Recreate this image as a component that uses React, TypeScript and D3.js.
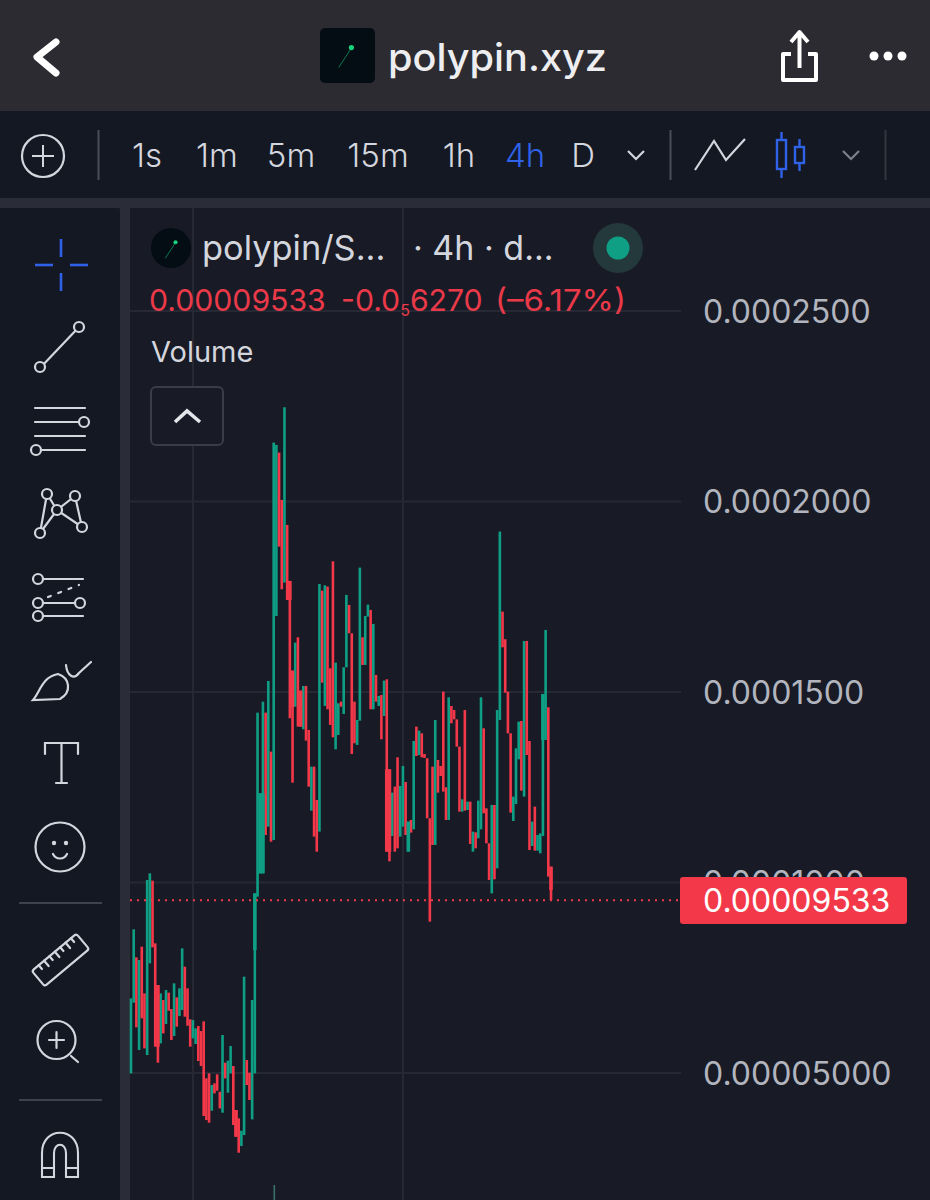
import React from "react";
import * as d3 from "d3";

// All prices are in units of 1e-8
const priceTicks = [25000, 20000, 15000, 10000, 5000];
const tickLabels = ["0.0002500", "0.0002000", "0.0001500", "0.0001000", "0.00005000"];
const lastPrice = 9533;
const lastLabel = "0.00009533";
const intervals = ["1s", "1m", "5m", "15m", "1h", "4h", "D"];
const activeInterval = "4h";

const highs = [6959,8770,8035,7965,8315,7090,10065,10240,10048,8403,7309,7090,6915,7178,7108,6679,7353,6985,7221,8271,7790,7221,6408,6390,6171,6233,6101,6355,4859,4990,4684,4728,4964,4509,5996,5270,5323,5708,5183,4028,3809,3485,7528,5340,5008,6915,9715,14458,12341,14747,14458,15290,13435,21546,21485,21284,20041,22473,19385,17915,15561,16296,16436,15036,15159,15159,14004,13041,13041,12166,17836,17661,17801,17766,15622,18431,15771,14703,14747,15648,17547,17285,16541,14747,14266,18265,16436,16996,17294,17154,16786,15447,14896,14922,15299,15333,12971,12358,12516,13286,12534,13058,12638,11597,11641,13715,14091,13986,13916,13373,13260,11685,13041,14266,13216,13058,15010,12498,14861,14633,14528,14283,13566,12184,14528,12122,12122,11335,11317,12149,14861,14047,11947,11029,12035,12035,14528,19210,17110,16384,15010,13916,12254,13522,14222,14240,16340,16340,13715,11597,11991,11247,11291,14948,16628,14598,10416];
const lows = [4990,6845,6198,5603,6434,5646,5471,7878,8298,5690,5270,5778,6040,6285,6635,5865,5970,6215,6495,6653,6478,6241,5690,5909,5760,5314,5183,3870,3765,3695,4010,4465,4535,4071,3958,4859,4483,4990,3634,3328,2908,3083,3371,4684,4290,3783,4990,9629,10240,10241,11247,11466,11072,11116,16996,18816,17696,17871,17416,14310,12621,14616,14091,14091,14021,13723,12516,11886,11204,10810,11335,15246,14634,14546,14135,13811,13496,13872,14616,14423,15648,16541,13373,13653,13610,14248,15710,15710,16979,14546,14546,14747,14634,13759,14371,10810,10556,11221,10810,10897,11204,11466,11247,10810,11308,11396,13321,13347,13286,13269,11685,8972,10985,10985,12358,12796,12385,11641,11641,14179,14283,13566,11860,11860,11886,11903,11011,10810,10897,11160,11396,11816,11029,10066,9716,10084,10372,14266,16173,14983,13916,11834,11615,12061,13233,12411,12254,13347,10853,10958,10836,10836,10766,11221,13741,10154,9541];
const sideList = (
  "GGRGRRGGRR" + "RGRGRRGRGG" + "RRRGGRRRRR" + "GRRRGRGGRR" + "RGGRRGGGGG" +
  "RGRGGRRGRR" + "RGRRGRRGRR" + "GRGRRRGGRG" + "GRRRGGRGGR" + "GRGRGRRGRR" +
  "GGRGRGRGRR" + "RRRGRRRRGR" + "RRRGRGRGRG" + "GRRRGRGGRR" + "RRGGGRGRRG" +
  "RGGGGRR"
).split("");
// Wider body spans where a candle's body is visibly heavier than its wick: index, top, bottom
const heavyIndex = [10,39,46,48,49,59,95,96,103,153,156,63,60];
const heavyTop = [7309,4028,9715,12341,12341,17915,12971,12971,11597,14948,10416,15036,15561];
const heavyBottom = [5690,3328,8228,10240,10240,17416,10810,10810,10810,13741,9800,14091,14600];

const W = 930, H = 1200;
const GREEN = "#0f9f84", RED = "#f23849", ICON = "#d4d6de", BLUE = "#2f62e6";
const FONT = "Inter, Roboto, sans-serif";

const y = d3.scaleLinear().domain([5000, 25000]).range([1073, 311]);
const x = d3.scaleLinear().domain([0, highs.length - 1]).range([131, 551]);

function Pin({ cx, cy, r }: { cx: number; cy: number; r: number }) {
  return (
    <g>
      <line x1={cx - r * 0.42} y1={cy + r * 0.58} x2={cx + r * 0.22} y2={cy - r * 0.4} stroke="#0b7a52" strokeWidth={1} />
      <circle cx={cx + r * 0.22} cy={cy - r * 0.42} r={r * 0.13} fill="#19d27c" />
    </g>
  );
}

function Toolbar() {
  const s = { fill: "none", stroke: ICON, strokeWidth: 2.2, strokeLinecap: "round" as const };
  const knob = (cx: number, cy: number, r = 5) => <circle cx={cx} cy={cy} r={r} fill="#141823" stroke={ICON} strokeWidth={2.2} />;
  return (
    <g>
      <g stroke={BLUE} strokeWidth={2.6}>
        <line x1={61} y1={239} x2={61} y2={257} /><line x1={61} y1={273} x2={61} y2={291} />
        <line x1={35} y1={265} x2={53} y2={265} /><line x1={70} y1={265} x2={88} y2={265} />
      </g>
      <line x1={41} y1={367} x2={79} y2={327} {...s} />{knob(40, 367)}{knob(79, 327)}
      <g {...s}>
        <line x1={35} y1={408} x2={85} y2={408} /><line x1={35} y1={422} x2={82} y2={422} />
        <line x1={35} y1={436} x2={85} y2={436} /><line x1={36} y1={450} x2={85} y2={450} />
      </g>
      {knob(84, 422)}{knob(36, 450)}
      <path d="M40 533 L47 494 L57 510 L75 496 L82 527 L57 510 L40 533" {...s} />
      {knob(47, 494)}{knob(75, 496)}{knob(57, 510)}{knob(40, 533)}{knob(82, 527)}
      <g {...s}>
        <line x1={40} y1={579} x2={83} y2={579} /><line x1={40} y1={603} x2={80} y2={603} />
        <line x1={40} y1={616} x2={83} y2={616} />
        <line x1={48} y1={597} x2={79} y2={585} strokeDasharray="3 8" />
      </g>
      {knob(38, 579)}{knob(38, 603)}{knob(80, 603)}{knob(38, 616)}
      <path d="M33 700 C40 692 42 677 58 674 C70 678 72 692 60 699 L33 700 Z M66 665 C67 676 74 680 79 673 L91 662" {...s} />
      <g {...s}>
        <path d="M45 754 L45 743 L78 743 L78 754" /><line x1={61.5} y1={743} x2={61.5} y2={783} /><line x1={56} y1={783} x2={67} y2={783} />
      </g>
      <circle cx={60} cy={847} r={24.5} {...s} />
      <circle cx={54} cy={843} r={2.2} fill={ICON} /><circle cx={66} cy={843} r={2.2} fill={ICON} />
      <path d="M53 854 C56 860 64 860 67 854" {...s} />
      <line x1={19} y1={903} x2={102} y2={903} stroke="#3f424c" strokeWidth={2} />
      <line x1={19} y1={1100} x2={102} y2={1100} stroke="#3f424c" strokeWidth={2} />
      <g transform="translate(60.5,960) rotate(-40)">
        <rect x={-29} y={-10} width={58} height={20} rx={2.5} {...s} />
        {[-20, -13, -6, 1, 8, 15, 22].map((d, i) => <line key={d} x1={d} y1={-10} x2={d} y2={i % 2 ? -3 : -5} {...s} />)}
      </g>
      <circle cx={56.5} cy={1040} r={19} {...s} />
      <path d="M49 1040 H64 M56.5 1032 V1048 M71 1056 L78 1062" {...s} />
      <path d="M42 1177 V1153 C42 1126 78 1126 78 1153 V1177 H66 V1153 C66 1142 54 1142 54 1153 V1177 Z M42 1168 H54 M66 1168 H78" {...s} strokeWidth={2.1} />
    </g>
  );
}

function Header() {
  const xs = [147, 217, 291, 378, 459, 525, 583];
  return (
    <g fontFamily={FONT}>
      <rect width={W} height={111} fill="#2b2b31" />
      <path d="M56 42 L37 57 L56 73" fill="none" stroke="#fff" strokeWidth={7} strokeLinecap="round" strokeLinejoin="round" />
      <rect x={320} y={28} width={55} height={55} rx={5} fill="#040c14" />
      <Pin cx={347} cy={56} r={20} />
      <text x={388} y={71} fontSize={38} fontWeight={500} fill="#eeeef0" textLength={219} lengthAdjust="spacingAndGlyphs" fontFamily="Inter, sans-serif">polypin.xyz</text>
      <path d="M791 54 H783 V80 H816 V54 H808 M799.5 68 V35 M791 42 L799.5 32 L808 42" fill="none" stroke="#fff" strokeWidth={4} strokeLinejoin="round" />
      <circle cx={874} cy={56} r={4.5} fill="#fff" /><circle cx={888} cy={56} r={4.5} fill="#fff" /><circle cx={902} cy={56} r={4.5} fill="#fff" />

      <rect y={111} width={W} height={87} fill="#141823" />
      <circle cx={43} cy={156} r={21} fill="none" stroke={ICON} strokeWidth={2.2} />
      <path d="M43 145 V167 M32 156 H54" stroke={ICON} strokeWidth={2} />
      <line x1={98.5} y1={130} x2={98.5} y2={180} stroke="#4a4d56" strokeWidth={2} />
      {intervals.map((t, i) => (
        <text key={t} x={xs[i]} y={167} textAnchor="middle" fontSize={33} fontWeight={300} fill={t === activeInterval ? BLUE : "#d4d6de"}>{t}</text>
      ))}
      <path d="M628 151 L636 159 L644 151" fill="none" stroke={ICON} strokeWidth={2.2} />
      <line x1={670.5} y1={130} x2={670.5} y2={180} stroke="#4a4d56" strokeWidth={2} />
      <path d="M695 170 L714 141 L726 160 L745 139" fill="none" stroke={ICON} strokeWidth={2.2} />
      <g fill="none" stroke={BLUE} strokeWidth={2.4}>
        <rect x={777} y={140} width={9} height={29} /><line x1={781.5} y1={132} x2={781.5} y2={140} /><line x1={781.5} y1={169} x2={781.5} y2={178} />
        <rect x={795} y={147} width={9} height={16} /><line x1={799.5} y1={139} x2={799.5} y2={147} /><line x1={799.5} y1={163} x2={799.5} y2={171} />
      </g>
      <path d="M843 151 L851 159 L859 151" fill="none" stroke="#7d808a" strokeWidth={2.2} />
      <line x1={885.5} y1={130} x2={885.5} y2={180} stroke="#33363f" strokeWidth={2} />
      <rect y={198} width={W} height={10} fill="#2a2d37" />
    </g>
  );
}

export default function App() {
  return (
    <svg width={W} height={H} viewBox={`0 0 ${W} ${H}`} style={{ position: "fixed", left: 0, top: 0, background: "#181b26" }}>
      <rect width={W} height={H} fill="#181b26" />
      <rect x={120} y={198} width={10} height={H - 198} fill="#2a2d37" />
      <path d={`M0 208 H112 Q120 208 120 216 V${H} H0 Z`} fill="#141823" />

      {/* grid */}
      <g stroke="#262934" strokeWidth={2}>
        {priceTicks.map(p => <line key={p} x1={130} x2={681} y1={y(p)} y2={y(p)} />)}
        <line x1={193} x2={193} y1={208} y2={H} />
        <line x1={403} x2={403} y1={208} y2={H} />
      </g>

      {/* candles */}
      <g>
        {highs.map((h, i) => (
          <rect key={i} x={x(i) - 1.3} width={2.6} y={y(h)} height={Math.max(1.5, y(lows[i]) - y(h))} fill={sideList[i] === "G" ? GREEN : RED} />
        ))}
        {heavyIndex.map((c, k) => (
          <rect key={c} x={x(c) - 1.8} width={3.6} y={y(heavyTop[k])} height={y(heavyBottom[k]) - y(heavyTop[k])} fill={sideList[c] === "G" ? GREEN : RED} />
        ))}
      </g>
      <rect x={273.5} y={1185} width={1.6} height={15} fill="#3a6f6a" />

      {/* last price line */}
      <line x1={130} x2={681} y1={y(lastPrice)} y2={y(lastPrice)} stroke={RED} strokeWidth={2} strokeDasharray="2 5" />

      {/* axis */}
      <g fontFamily={FONT} fontSize={32} fill="#b2b5be">
        {priceTicks.map((p, i) => <text key={p} x={703} y={y(p) + 11.5}>{tickLabels[i]}</text>)}
      </g>
      <rect x={680} y={877} width={227} height={47} rx={3} fill="#f23849" />
      <text x={703} y={912} fontFamily={FONT} fontSize={32} fill="#fff">{lastLabel}</text>

      {/* legend */}
      <g fontFamily={FONT}>
        <circle cx={171} cy={248} r={20} fill="#040c14" />
        <Pin cx={172} cy={249} r={16} />
        <text x={202} y={260} fontSize={34.4} fill="#d4d6de">polypin/S...</text>
        <text x={413} y={260} fontSize={34} fill="#d4d6de"> · 4h · d...</text>
        <circle cx={618} cy={248} r={25} fill="#24393c" />
        <circle cx={618} cy={248} r={11.5} fill={GREEN} />
        <text x={149} y={311} fontSize={30.2} fill="#ea3a4a">0.00009533</text>
        <text x={341} y={311} fontSize={30.2} fill="#ea3a4a">-0.0<tspan fontSize={16} dy={5}>5</tspan><tspan dy={-5}>6270</tspan></text>
        <text x={495} y={311} fontSize={30.2} fill="#ea3a4a" textLength={131} lengthAdjust="spacingAndGlyphs">(–6.17%)</text>
        <text x={151} y={362} fontSize={29} fill="#d4d6de">Volume</text>
        <rect x={151} y={387} width={72} height={58} rx={5} fill="#181b26" stroke="#3a3d47" strokeWidth={2} />
        <path d="M175 422 L187 411 L200 422" fill="none" stroke="#e4e5ea" strokeWidth={3.6} />
      </g>

      <Header />
      <Toolbar />
    </svg>
  );
}
